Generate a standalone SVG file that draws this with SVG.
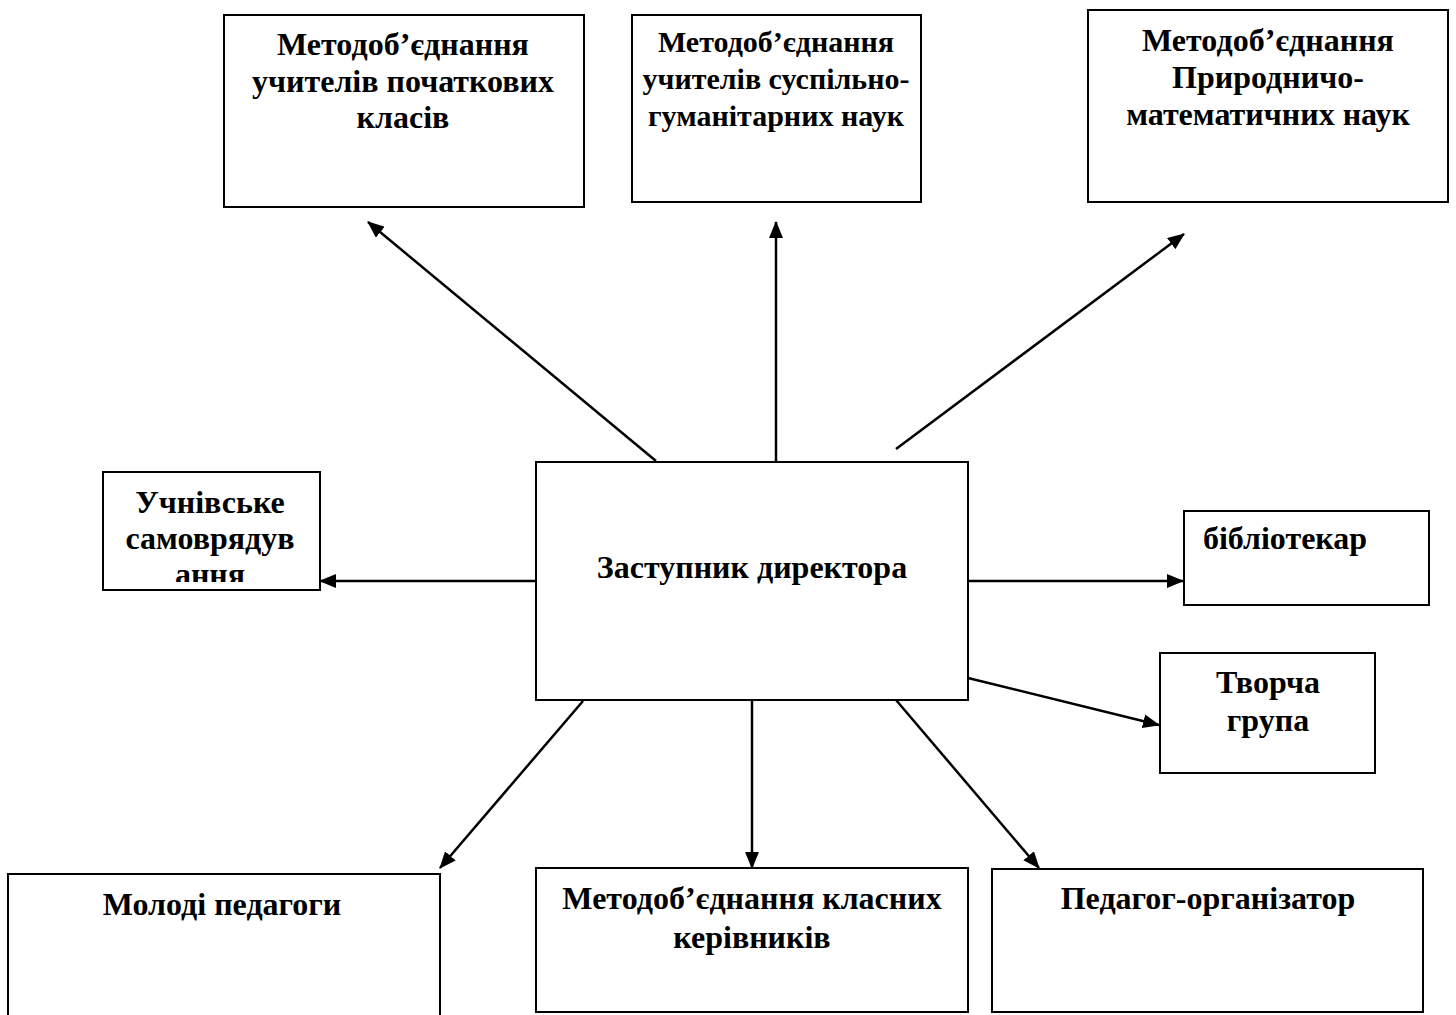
<svg xmlns="http://www.w3.org/2000/svg" width="1456" height="1015" viewBox="0 0 1456 1015">
<style>
.box{fill:#fff;stroke:#000;stroke-width:2}
.t{font-family:"Liberation Serif","Times New Roman",serif;font-weight:bold;font-size:32px;fill:#000;text-anchor:middle}
.s{font-size:30px}
.c{stroke:#000;stroke-width:2.5;fill:none;marker-end:url(#ah)}
</style>
<defs>
<marker id="ah" markerUnits="userSpaceOnUse" markerWidth="18" markerHeight="14" refX="16" refY="7" orient="auto">
<path d="M0,0 L17,7 L0,14 z" fill="#000"/>
</marker>
<clipPath id="clipU"><rect x="104" y="473" width="215" height="109"/></clipPath>
</defs>
<rect width="1456" height="1015" fill="#fff"/>
<g id="connectors">
<line class="c" x1="656" y1="461" x2="368" y2="222"/>
<line class="c" x1="776" y1="461" x2="776" y2="222"/>
<line class="c" x1="896" y1="449" x2="1184" y2="234"/>
<line class="c" x1="536" y1="581" x2="320" y2="581"/>
<line class="c" x1="968" y1="581" x2="1183" y2="581"/>
<line class="c" x1="968" y1="678" x2="1159" y2="725"/>
<line class="c" x1="583" y1="701" x2="440" y2="868"/>
<line class="c" x1="752" y1="700" x2="752" y2="868"/>
<line class="c" x1="896" y1="700" x2="1039" y2="868"/>
</g>
<g id="n-pochatkovi">
<rect class="box" x="224" y="15" width="360" height="192"/>
<text class="t" x="403" y="55">Методоб’єднання</text>
<text class="t" x="403" y="92">учителів початкових</text>
<text class="t" x="403" y="128">класів</text>
</g>
<g id="n-suspilno">
<rect class="box" x="632" y="15" width="289" height="187"/>
<text class="t s" x="776" y="52">Методоб’єднання</text>
<text class="t s" x="776" y="89">учителів суспільно-</text>
<text class="t s" x="776" y="126">гуманітарних наук</text>
</g>
<g id="n-pryrodnycho">
<rect class="box" x="1088" y="10" width="360" height="192"/>
<text class="t" x="1268" y="51">Методоб’єднання</text>
<text class="t" x="1268" y="88">Природничо-</text>
<text class="t" x="1268" y="125">математичних наук</text>
</g>
<g id="n-zastupnyk">
<rect class="box" x="536" y="462" width="432" height="238"/>
<text class="t" x="752" y="578">Заступник директора</text>
</g>
<g id="n-uchnivske">
<rect class="box" x="103" y="472" width="217" height="118"/>
<g clip-path="url(#clipU)">
<text class="t" x="210" y="513">Учнівське</text>
<text class="t" x="210" y="549">самоврядув</text>
<text class="t" x="210" y="585">ання</text>
</g>
</g>
<g id="n-bibliotekar">
<rect class="box" x="1184" y="511" width="245" height="94"/>
<text class="t" x="1285" y="549">бібліотекар</text>
</g>
<g id="n-tvorcha">
<rect class="box" x="1160" y="653" width="215" height="120"/>
<text class="t" x="1268" y="693">Творча</text>
<text class="t" x="1268" y="731">група</text>
</g>
<g id="n-molodi">
<rect class="box" x="8" y="874" width="432" height="160"/>
<text class="t" x="222" y="915">Молоді педагоги</text>
</g>
<g id="n-klasni">
<rect class="box" x="536" y="868" width="432" height="144"/>
<text class="t" x="752" y="909">Методоб’єднання класних</text>
<text class="t" x="752" y="948">керівників</text>
</g>
<g id="n-orhanizator">
<rect class="box" x="992" y="869" width="431" height="143"/>
<text class="t" x="1208" y="909">Педагог-організатор</text>
</g>
</svg>
